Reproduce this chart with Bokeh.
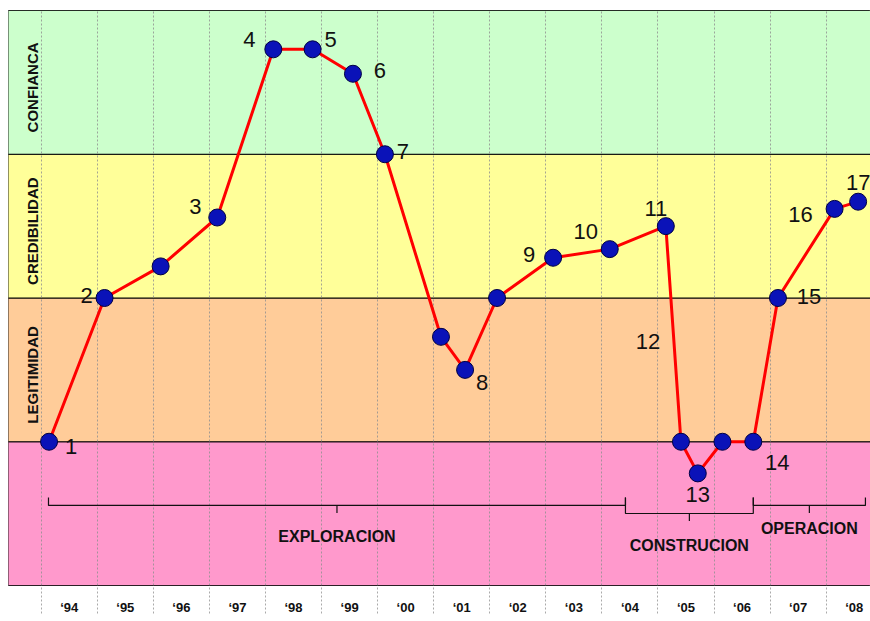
from bokeh.plotting import figure
from bokeh.models import FixedTicker, Range1d, ColumnDataSource
from bokeh.core.properties import value
from bokeh.embed import file_html
from bokeh.resources import INLINE

# ---------------- data ----------------
band_names = ["", "LEGITIMIDAD", "CREDIBILIDAD", "CONFIANCA"]
band_bottom = [0, 1, 2, 3]
band_top = [1, 2, 3, 4]
band_colors = ["#FF99CC", "#FFCC99", "#FFFF99", "#CCFFCC"]

years = list(range(1994, 2009))
year_labels = ["\u201894", "\u201895", "\u201896", "\u201897", "\u201898", "\u201899", "\u201800",
               "\u201801", "\u201802", "\u201803", "\u201804", "\u201805", "\u201806", "\u201807", "\u201808"]

point_x = [1994.14, 1995.13, 1996.13, 1997.14, 1998.14, 1998.84, 1999.56, 2000.13,
           2001.13, 2001.56, 2002.13, 2003.13, 2004.14, 2005.14, 2005.41, 2005.71,
           2006.15, 2006.70, 2007.14, 2008.15, 2008.57]
point_y = [1.0, 2.0, 2.22, 2.56, 3.73, 3.73, 3.56, 3.0,
           1.73, 1.50, 2.0, 2.28, 2.34, 2.50, 1.0, 0.78,
           1.0, 1.0, 2.0, 2.62, 2.67]

label_text = ["1", "2", "3", "4", "5", "6", "7", "8", "9", "10", "11", "12", "13", "14", "15", "16", "17"]
label_point = [0, 1, 3, 4, 5, 6, 7, 9, 11, 12, 13, 14, 15, 17, 18, 19, 20]
label_dx = [22, -18, -22, -24, 18, 27, 18, 17, -24, -24, -10, -33, 0, 24, 31, -34, 0]
label_dy = [5, -3, -11, -10, -10, -3, -3, 13, -3, -18, -18, -100, 21, 21, -2, 6, -19]

phase_names = ["EXPLORACION", "CONSTRUCION", "OPERACION"]
phase_start = [1994.13, 2004.42, 2006.70]
phase_end = [2004.42, 2006.70, 2008.70]

# ---------------- styling ----------------
phase_line_y = [0.557, 0.501, 0.557]
phase_label_y = [0.341, 0.278, 0.397]
END_TOP = 0.612
TICK_DROP = 0.052

x_start = 1994 - 32.7 / 56.07
x_end = x_start + 862 / 56.07

p = figure(frame_width=862, frame_height=575, output_backend="svg", toolbar_location=None,
           x_range=Range1d(x_start, x_end), y_range=Range1d(0, 4),
           min_border_top=10, min_border_left=8, min_border_right=0, min_border_bottom=0,
           y_axis_location=None)
p.background_fill_color = "white"
p.border_fill_color = "white"
p.outline_line_color = "#222222"
p.outline_line_width = 1

# bands
p.quad(left=[x_start - 1] * 4, right=[x_end + 1] * 4, bottom=band_bottom, top=band_top,
       fill_color=band_colors, line_color="black", line_width=1, level="image")

# grid
p.ygrid.visible = False
p.xgrid.ticker = FixedTicker(ticks=years)
p.xgrid.grid_line_color = "#8f8f8f"
p.xgrid.grid_line_alpha = 0.8
p.xgrid.grid_line_dash = "2 2"
p.xgrid.grid_line_width = 1

# axis
ax = p.xaxis[0]
ax.ticker = FixedTicker(ticks=[y + 0.5 for y in years], minor_ticks=years)
ax.major_label_overrides = {y + 0.5: lab for y, lab in zip(years, year_labels)}
ax.axis_line_color = None
ax.major_tick_in = 0
ax.major_tick_out = 0
ax.minor_tick_in = 0
ax.minor_tick_out = 28
ax.minor_tick_line_color = "#aaaaaa"
ax.minor_tick_line_dash = "2 2"
ax.major_label_standoff = -14
ax.major_label_text_font = "Liberation Sans"
ax.major_label_text_font_style = "bold"
ax.major_label_text_font_size = "13px"
ax.major_label_text_color = "#111111"

# band labels
bl = [(n, (b + t) / 2 - 0.035) for n, b, t in zip(band_names, band_bottom, band_top) if n]
p.text(x=[x_start + 0.43] * len(bl), y=[v for _, v in bl], text=[n for n, _ in bl],
       angle=1.5708, text_align="center", text_baseline="middle",
       text_font=value("Liberation Sans"), text_font_style="bold", text_font_size="15px",
       text_color="#111111")

# phase brackets
xs, ys = [], []
for s, e, ly in zip(phase_start, phase_end, phase_line_y):
    xs.append([s, s, e, e])
    ys.append([END_TOP, ly, ly, END_TOP])
    m = (s + e) / 2
    xs.append([m, m])
    ys.append([ly, ly - TICK_DROP])
p.multi_line(xs=xs, ys=ys, line_color="#111111", line_width=1.2)
p.text(x=[(s + e) / 2 for s, e in zip(phase_start, phase_end)], y=phase_label_y, text=phase_names,
       text_align="center", text_baseline="middle",
       text_font=value("Liberation Sans"), text_font_style="bold", text_font_size="16px",
       text_color="#111111")

# series
p.line(point_x, point_y, line_color="#FF0000", line_width=3)
p.scatter(point_x, point_y, size=17, fill_color="#0a12b8", line_color="#000044", line_width=1)

# number labels
src = ColumnDataSource(dict(
    x=[point_x[i] for i in label_point], y=[point_y[i] for i in label_point],
    t=label_text, dx=label_dx, dy=label_dy))
p.text(x="x", y="y", text="t", x_offset="dx", y_offset="dy", source=src,
       text_align="center", text_baseline="middle",
       text_font=value("Liberation Sans"), text_font_size="22px", text_color="#111111")

open("out.html", "w").write(file_html(p, INLINE))
